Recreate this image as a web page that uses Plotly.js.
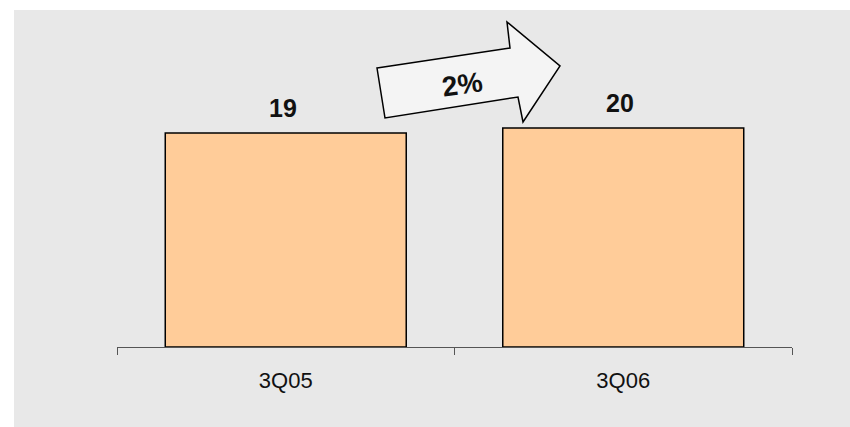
<!DOCTYPE html>
<html>
<head>
<meta charset="utf-8">
<script src="https://cdn.plot.ly/plotly-3.0.1.min.js"></script>
<style>html,body{margin:0;padding:0;background:#fff;}#chart{width:850px;height:427px;}</style>
</head>
<body>
<div id="chart"></div>
<script>
const categories = ["3Q05", "3Q06"];
const values = [19.4, 19.85];
const growthLabel = "2%";

const W = 850, H = 427;
const M = {l: 117, r: 58, t: 10, b: 80};
const pw = W - M.l - M.r, ph = H - M.t - M.b;
const px = x => (x - M.l) / pw;
const py = y => (H - M.b - y) / ph;

const arrowPts = [[377,68],[510,48],[507,22],[560,66],[523,122],[518,97],[385,118]];
const arrowPath = arrowPts.map((p,i)=>(i?'L':'M')+px(p[0])+','+py(p[1])).join(' ')+' Z';

const trace = {
  type: 'bar',
  x: categories,
  y: values,
  marker: {color: '#FFCC99', line: {color: '#000', width: 1.5}},
  hoverinfo: 'skip'
};

const layout = {
  width: W, height: H,
  margin: M,
  paper_bgcolor: '#fff',
  plot_bgcolor: 'rgba(0,0,0,0)',
  showlegend: false,
  bargap: 0.286,
  font: {family: 'Liberation Sans, Arial, sans-serif', color: '#111'},
  xaxis: {
    showline: true, linecolor: '#555', linewidth: 1,
    ticks: 'outside', tickson: 'boundaries', ticklen: 7, tickcolor: '#555',
    tickfont: {size: 22, color: '#111'},
    ticklabelstandoff: 14,
    showgrid: false, zeroline: false, fixedrange: true
  },
  yaxis: {
    range: [0, 30.55], visible: false, showgrid: false, zeroline: false, fixedrange: true
  },
  shapes: [
    {type: 'rect', xref: 'paper', yref: 'paper', x0: px(14), x1: px(850), y0: py(10), y1: py(427),
     fillcolor: '#E8E8E8', line: {width: 0}, layer: 'below'},
    {type: 'path', xref: 'paper', yref: 'paper', path: arrowPath,
     fillcolor: '#F4F4F4', line: {color: '#000', width: 1.5}, layer: 'above'}
  ],
  annotations: categories.map((c, i) => ({
    x: c, y: values[i], xref: 'x', yref: 'y',
    text: '<b>' + Math.round(values[i]) + '</b>',
    showarrow: false, yanchor: 'bottom', yshift: 9, xshift: -3,
    font: {size: 25, color: '#111'}
  })).concat([{
    x: px(462), y: py(84), xref: 'paper', yref: 'paper',
    xanchor: 'center', yanchor: 'middle',
    text: '<b>' + growthLabel + '</b>', showarrow: false, textangle: -8,
    font: {size: 28, color: '#111'}
  }])
};

Plotly.newPlot('chart', [trace], layout, {displayModeBar: false, staticPlot: true});
</script>
</body>
</html>
